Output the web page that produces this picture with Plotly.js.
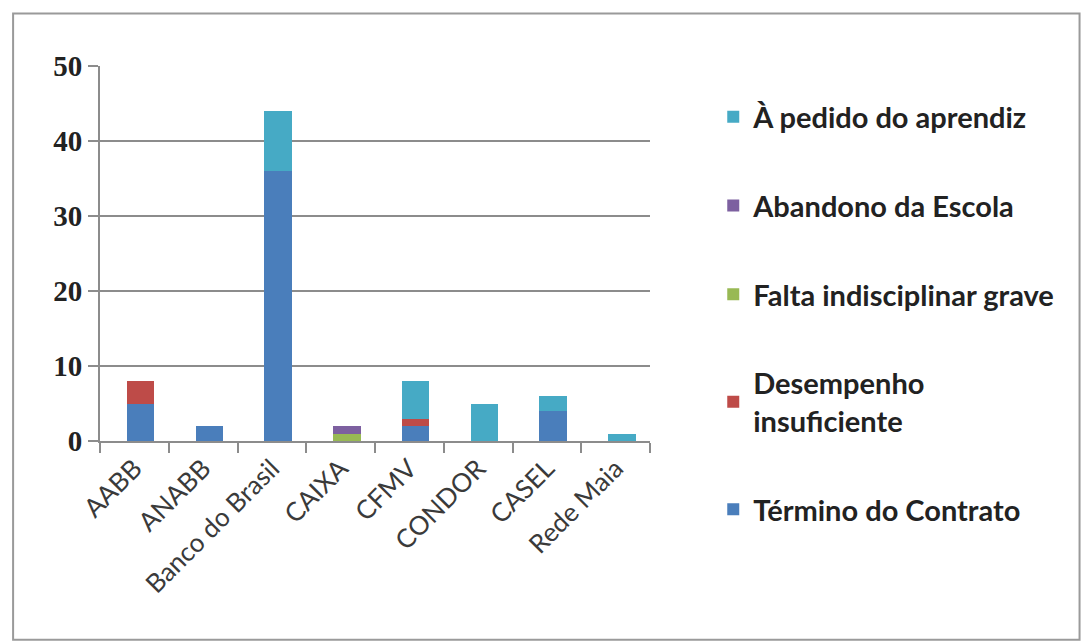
<!DOCTYPE html>
<html><head><meta charset="utf-8">
<script src="https://cdn.plot.ly/plotly-3.0.1.min.js"></script>
<style>html,body{margin:0;padding:0;background:#fff}#chart{width:1091px;height:644px}</style>
</head><body><div id="chart"></div>
<script>
const categories = ["AABB","ANABB","Banco do Brasil","CAIXA","CFMV","CONDOR","CASEL","Rede Maia"];
const terminoContrato = [5,2,36,0,2,0,4,0];
const desempenhoInsuficiente = [3,0,0,0,1,0,0,0];
const faltaIndisciplinar = [0,0,0,1,0,0,0,0];
const abandonoEscola = [0,0,0,1,0,0,0,0];
const pedidoAprendiz = [0,0,8,0,5,5,2,1];
const yTicks = [0,10,20,30,40,50];

const series = [
  {name:"Término do Contrato", y:terminoContrato, color:"#4A7EBB"},
  {name:"Desempenho<br>insuficiente", y:desempenhoInsuficiente, color:"#BE4B48"},
  {name:"Falta indisciplinar grave", y:faltaIndisciplinar, color:"#98B954"},
  {name:"Abandono da Escola", y:abandonoEscola, color:"#7D60A0"},
  {name:"À pedido do aprendiz", y:pedidoAprendiz, color:"#46AAC5"}
];
const traces = series.map((s,i)=>({
  type:"bar", x:categories, y:s.y, name:s.name, legendgroup:"g"+i,
  legendrank: 10 - i, width:0.4, offset:-0.11,
  marker:{color:s.color, line:{width:0}},
  hoverinfo:"y+name"
}));
const layout = {
  width:1091, height:644, barmode:"stack",
  paper_bgcolor:"#fff", plot_bgcolor:"#fff",
  margin:{l:100, r:441, t:66, b:203},
  font:{family:"Lato, 'Open Sans', sans-serif", color:"#222"},
  xaxis:{type:"category", tickangle:-45, showline:true, linecolor:"#8c8c8c", linewidth:2,
    ticks:"outside", ticklen:10, tickcolor:"#8c8c8c", tickwidth:2, tickson:"boundaries",
    tickfont:{family:"Lato, sans-serif", size:26, color:"#3a3a3a"}, showgrid:false},
  yaxis:{range:[0,50], tickvals:yTicks, showline:true, linecolor:"#8c8c8c", linewidth:2,
    ticks:"outside", ticklen:10, tickcolor:"#8c8c8c", tickwidth:2,
    showgrid:true, gridcolor:"#8c8c8c", gridwidth:2, zeroline:false,
    tickfont:{family:"'Liberation Serif', serif", size:29, color:"#222", weight:"bold"}},
  legend:{x:1.115, xanchor:"left", y:0.34, yanchor:"middle", traceorder:"grouped",
    tracegroupgap:48, itemwidth:30, maxheight:620,
    font:{family:"Lato, sans-serif", size:29, color:"#222", weight:"bold"}},
  shapes:[{type:"rect", xref:"paper", yref:"paper", x0:-0.158, x1:1.781, y0:-0.53, y1:1.14,
    line:{color:"#9a9a9a", width:2}, layer:"below"}],
  showlegend:true
};
Plotly.newPlot("chart", traces, layout, {staticPlot:true});
</script></body></html>
